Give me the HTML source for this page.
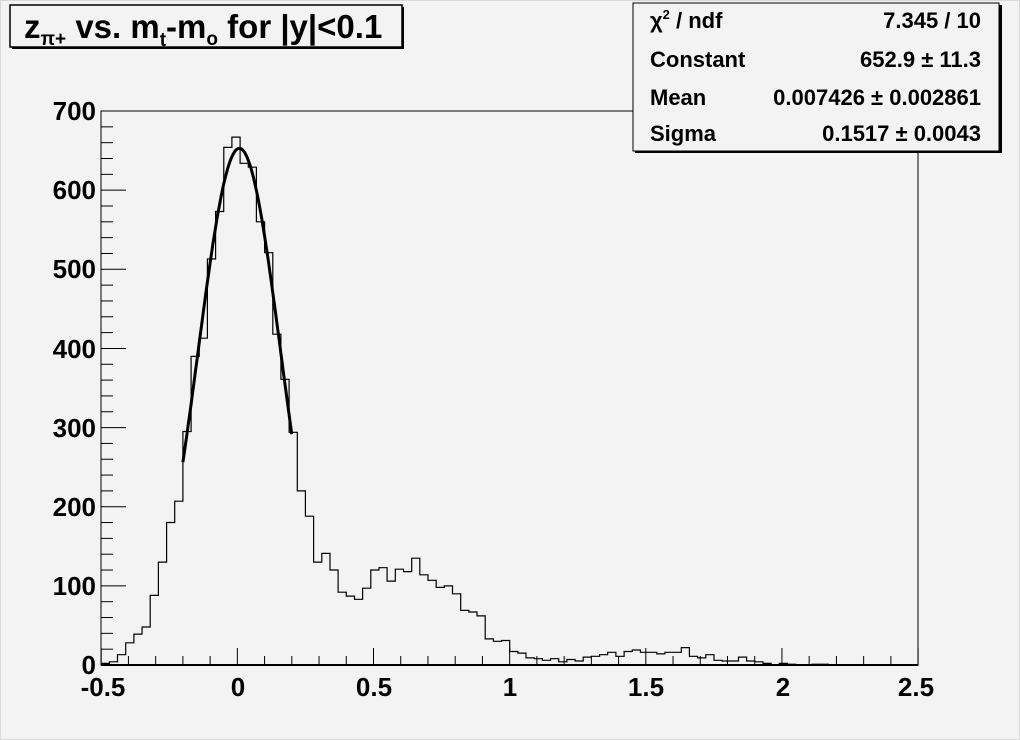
<!DOCTYPE html>
<html><head><meta charset="utf-8"><style>
body{margin:0;background:#fff}
svg{display:block}
text{font-family:"Liberation Sans",Arial,sans-serif;font-weight:bold;fill:#000}
</style></head><body>
<svg id="s" width="1020" height="740" xmlns="http://www.w3.org/2000/svg">
<rect x="0" y="0" width="1020" height="740" fill="#f3f3f3"/>
<rect x="0.5" y="0.5" width="1019" height="739" fill="none" stroke="#d8d8d8"/>
<rect x="101" y="111" width="817" height="554" fill="#f3f3f3" stroke="#000" stroke-width="1"/>
<g id="ticks" stroke="#000" stroke-width="1"></g>
<path id="hist" fill="none" stroke="#000" stroke-width="1.2"/>
<path id="fit" fill="none" stroke="#000" stroke-width="3"/>
<line x1="101" y1="665" x2="918" y2="665" stroke="#000" stroke-width="2"/>
<line x1="101" y1="111" x2="101" y2="665" stroke="#000" stroke-width="1"/>
<g font-size="26" text-anchor="end">
<text x="96" y="674">0</text><text x="96" y="595">100</text><text x="96" y="516">200</text>
<text x="96" y="437">300</text><text x="96" y="358">400</text><text x="96" y="278">500</text>
<text x="96" y="199">600</text><text x="96" y="120">700</text>
</g>
<g font-size="26" text-anchor="middle">
<text x="103" y="696">-0.5</text><text x="238" y="696">0</text><text x="374" y="696">0.5</text>
<text x="510" y="696">1</text><text x="646" y="696">1.5</text><text x="783" y="696">2</text><text x="916" y="696">2.5</text>
</g>
<rect x="12" y="7" width="392" height="42" fill="#000"/>
<rect x="10" y="5" width="392" height="42" fill="#f3f3f3" stroke="#000" stroke-width="1.5"/>
<text x="24" y="38" font-size="33">z<tspan font-size="19" dy="7">π+</tspan><tspan dy="-7"> vs. m</tspan><tspan font-size="19" dy="8">t</tspan><tspan dy="-8">-m</tspan><tspan font-size="19" dy="7">o</tspan><tspan dy="-7"> for |y|&lt;0.1</tspan></text>
<rect x="635" y="5" width="367" height="148" fill="#000"/>
<rect x="633" y="3" width="366" height="148" fill="#f3f3f3" stroke="#000" stroke-width="1"/>
<g font-size="22">
<text x="650" y="28">χ<tspan font-size="13" dy="-9">2</tspan><tspan dy="9"> / ndf</tspan></text>
<text x="650" y="67">Constant</text>
<text x="650" y="105">Mean</text>
<text x="650" y="141">Sigma</text>
</g>
<g font-size="22" text-anchor="end">
<text x="981" y="28">7.345 / 10</text>
<text x="981" y="67">652.9 ± 11.3</text>
<text x="981" y="105">0.007426 ± 0.002861</text>
<text x="981" y="141">0.1517 ± 0.0043</text>
</g>
</svg>
<script>
var v=[2,4,13,28,39,48,88,130,180,207,295,390,413,513,573,654,667,634,629,560,521,418,361,294,220,188,130,141,120,92,87,83,97,120,123,106,121,118,135,114,107,98,100,90,69,67,62,33,30,31,17,15,9,8,6,8,4,7,5,10,11,13,16,11,17,19,16,16,14,16,16,22,11,9,13,6,5,5,10,5,4,2,0,2,1,0,0,1,1,0,0,0,0,0,0,0,0,0,0,0];
function X(x){return 101.2+(x+0.5)*272.3;}
function Y(y){return 665-y*0.7914;}
var d="M101.2,665",bw=8.17;
for(var i=0;i<100;i++){var x0=101.2+i*bw;d+=" L"+x0.toFixed(1)+","+Y(v[i]).toFixed(1)+" L"+(x0+bw).toFixed(1)+","+Y(v[i]).toFixed(1);}
d+=" L918,665";
document.getElementById("hist").setAttribute("d",d);
var f="";
for(var k=0;k<=80;k++){var x=-0.2+k*0.005;var y=652.9*Math.exp(-0.5*Math.pow((x-0.007426)/0.1517,2));f+=(k?" L":"M")+X(x).toFixed(1)+","+Y(y).toFixed(1);}
document.getElementById("fit").setAttribute("d",f);
var t="";
for(var k=0;k<=30;k++){var x=X(-0.5+k*0.1);var L=(k%5==0)?17:9;t+='<line x1="'+x+'" y1="665" x2="'+x+'" y2="'+(665-L)+'"/>';}
for(var k=0;k<=35;k++){var y=Y(k*20);var L=(k%5==0)?25:12;t+='<line x1="101" y1="'+y+'" x2="'+(101+L)+'" y2="'+y+'"/>';}
document.getElementById("ticks").innerHTML=t;
</script>
</body></html>
